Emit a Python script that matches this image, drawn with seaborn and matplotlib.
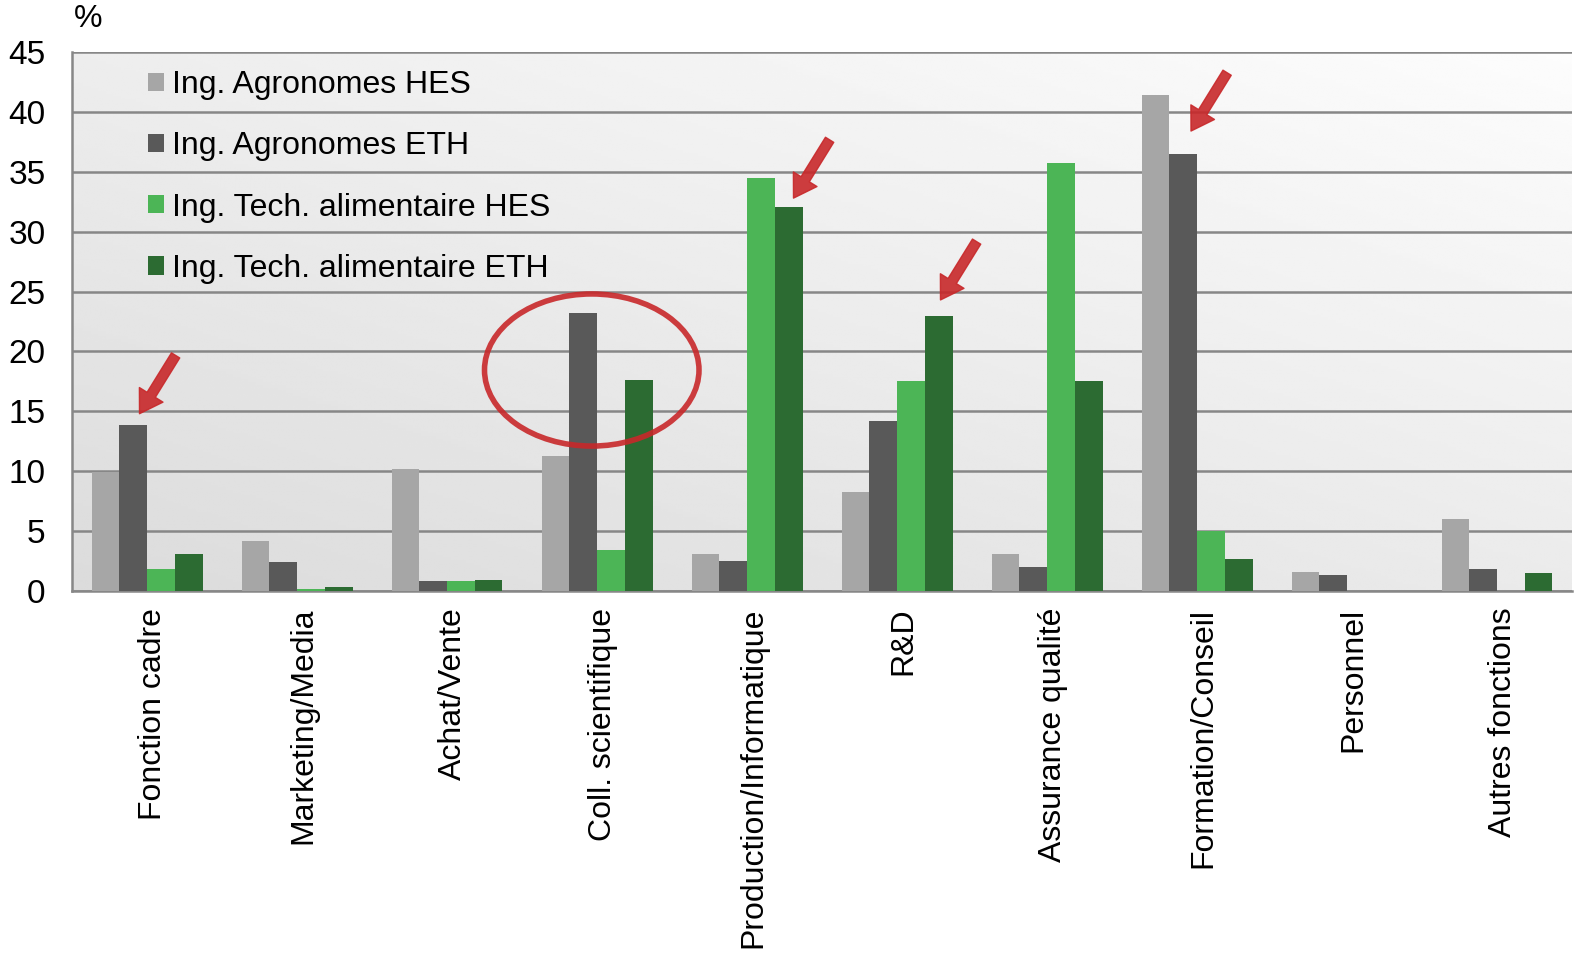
import pandas as pd
import numpy as np
import matplotlib.pyplot as plt
import matplotlib.transforms as mtransforms
import seaborn as sns
from matplotlib.patches import Ellipse, Patch

# Data (% per function)
categories = ['Fonction cadre', 'Marketing/Media', 'Achat/Vente', 'Coll. scientifique',
              'Production/Informatique', 'R&D', 'Assurance qualité', 'Formation/Conseil',
              'Personnel', 'Autres fonctions']
series = ['Ing. Agronomes HES', 'Ing. Agronomes ETH',
          'Ing. Tech. alimentaire HES', 'Ing. Tech. alimentaire ETH']
agro_hes = [9.9, 4.2, 10.2, 11.3, 3.1, 8.3, 3.1, 41.4, 1.6, 6.0]
agro_eth = [13.9, 2.4, 0.8, 23.2, 2.5, 14.2, 2.0, 36.5, 1.3, 1.8]
tech_hes = [1.8, 0.2, 0.8, 3.4, 34.5, 17.5, 35.7, 5.0, 0.0, 0.0]
tech_eth = [3.1, 0.3, 0.9, 17.6, 32.1, 23.0, 17.5, 2.7, 0.0, 1.5]
colors = ['#a6a6a6', '#595959', '#4cb556', '#2c6b32']

df = pd.DataFrame({
    'Fonction': categories * 4,
    'Groupe': np.repeat(series, len(categories)),
    'Pourcent': agro_hes + agro_eth + tech_hes + tech_eth,
})

sns.set_style('white')
plt.rcParams['font.family'] = ['Liberation Sans', 'DejaVu Sans']
plt.rcParams['text.color'] = 'black'
plt.rcParams['xtick.labelcolor'] = 'black'
plt.rcParams['ytick.labelcolor'] = 'black'

fig = plt.figure(figsize=(15.76, 9.55), dpi=100)
ax = fig.add_axes([72 / 1576, 1 - 591 / 955, 1500 / 1576, 539 / 955])

# gradient background
gx, gy = np.meshgrid(np.linspace(0, 1, 200), np.linspace(0, 1, 200))
grad = 0.86 + 0.06 * gx + 0.07 * gy
ax.imshow(grad, cmap='gray', vmin=0, vmax=1, extent=[0, 1, 0, 1], origin='lower',
          transform=ax.transAxes, aspect='auto', zorder=0, interpolation='bilinear')

sns.barplot(data=df, x='Fonction', y='Pourcent', hue='Groupe', order=categories,
            hue_order=series, palette=colors, width=0.74, gap=0, saturation=1,
            edgecolor='none', legend=False, ax=ax, zorder=3)

ax.set_ylim(0, 45)
ax.set_xlim(-0.5, 9.5)
ax.set_yticks(range(0, 46, 5))
ax.yaxis.grid(True, color='#878787', lw=1.8, zorder=1)
ax.set_axisbelow(True)
ax.set_xlabel('')
ax.set_ylabel('')
for s in ['top', 'right']:
    ax.spines[s].set_visible(False)
for s in ['left', 'bottom']:
    ax.spines[s].set_color('#878787')
    ax.spines[s].set_linewidth(1.8)
ax.tick_params(axis='y', length=7, width=1.8, color='#878787', labelsize=24, pad=12,
               labelcolor='black')
ax.tick_params(axis='x', length=0, labelsize=23, pad=12, labelcolor='black')
shift = mtransforms.ScaledTranslation(6 / 100, 0, fig.dpi_scale_trans)
for lab in ax.get_xticklabels():
    lab.set_rotation(90)
    lab.set_transform(lab.get_transform() + shift)

fig.text(74 / 1576, 1 - 19 / 955, '%', fontsize=23, va='center', ha='left')

handles = [Patch(facecolor=c, edgecolor='none') for c in colors]
ax.legend(handles, series, loc='upper left', bbox_to_anchor=(148 / 1576, 1 - 70 / 955),
          bbox_transform=fig.transFigure, frameon=False, fontsize=23,
          handlelength=0.5, handleheight=0.5, handletextpad=0.25,
          labelspacing=0.98, borderpad=0, borderaxespad=0)

# red highlight annotations
red = '#c8282a'
arrow_tips = [(-0.05, 14.8), (4.31, 32.8), (5.29, 24.3), (6.96, 38.4)]
for xt, yt in arrow_tips:
    ax.annotate('', xy=(xt, yt), xytext=(26, 42), textcoords='offset points',
                arrowprops=dict(arrowstyle='simple,head_length=0.8,head_width=1.0,tail_width=0.35',
                                mutation_scale=20, color=red, alpha=0.9,
                                shrinkA=0, shrinkB=0), zorder=6)
ax.add_patch(Ellipse((2.965, 18.45), 1.43, 12.7, fill=False, edgecolor=red,
                     lw=4, alpha=0.9, zorder=6))

fig.savefig('out.png', dpi=100)
